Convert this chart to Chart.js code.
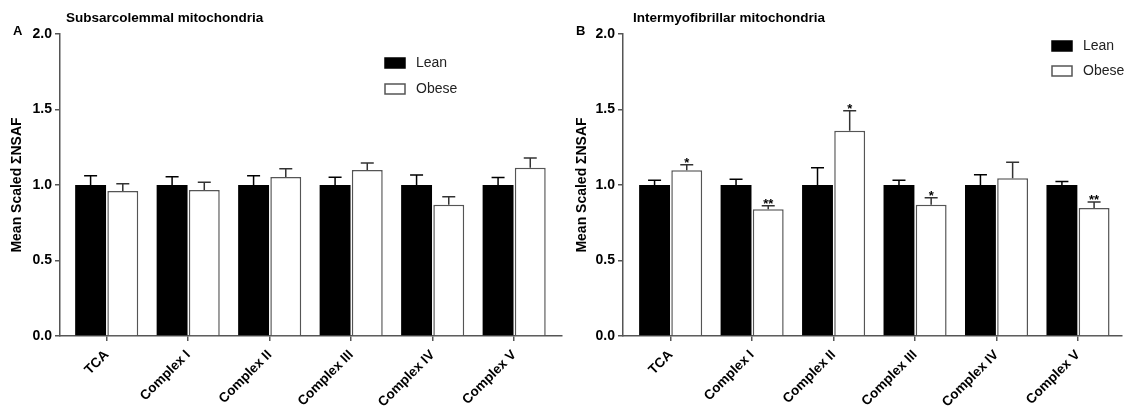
<!DOCTYPE html>
<html lang="en">
<head>
<meta charset="UTF-8">
<title>Mean Scaled ΣNSAF - mitochondria</title>
<script src="https://cdn.jsdelivr.net/npm/chart.js"></script>
<style>
  body { margin: 0; background: #fff; }
  .row { display: flex; width: 1130px; height: 415px; }
  .panel { width: 565px; height: 415px; }
</style>
</head>
<body>
<div class="row">
  <div class="panel"><canvas id="chartA" width="565" height="415"></canvas></div>
  <div class="panel"><canvas id="chartB" width="565" height="415"></canvas></div>
</div>
<script>
const categories = ['TCA', 'Complex I', 'Complex II', 'Complex III', 'Complex IV', 'Complex V'];
const yTicks = [0, 0.5, 1.0, 1.5, 2.0];

// A: subsarcolemmal (err = mean + SEM)
const ssLean = [1, 1, 1, 1, 1, 1];
const ssLeanErr = [1.062, 1.055, 1.062, 1.051, 1.066, 1.049];
const ssObese = [0.960, 0.967, 1.053, 1.099, 0.869, 1.115];
const ssObeseErr = [1.009, 1.018, 1.108, 1.146, 0.922, 1.179];
const ssSig = ['', '', '', '', '', ''];

// B: intermyofibrillar
const imfLean = [1, 1, 1, 1, 1, 1];
const imfLeanErr = [1.031, 1.038, 1.115, 1.031, 1.068, 1.024];
const imfObese = [1.097, 0.839, 1.360, 0.869, 1.044, 0.848];
const imfObeseErr = [1.134, 0.863, 1.492, 0.916, 1.150, 0.887];
const imfSig = ['*', '**', '*', '*', '', '**'];

const FONT = '"Liberation Sans", Arial, sans-serif';
Chart.defaults.font.family = FONT;

// SEM whiskers + significance stars
const errorBars = {
  id: 'errorBars',
  afterDatasetsDraw(chart) {
    const ctx = chart.ctx;
    const y = chart.scales.y;
    chart.data.datasets.forEach((ds, i) => {
      chart.getDatasetMeta(i).data.forEach((bar, j) => {
        const top = y.getPixelForValue(ds.errTop[j]);
        ctx.save();
        ctx.strokeStyle = ds.errColor;
        ctx.lineWidth = 1.5;
        ctx.beginPath();
        ctx.moveTo(bar.x, bar.y);
        ctx.lineTo(bar.x, top);
        ctx.moveTo(bar.x - 6.5, top);
        ctx.lineTo(bar.x + 6.5, top);
        ctx.stroke();
        if (ds.sig && ds.sig[j]) {
          ctx.fillStyle = '#000';
          ctx.font = 'bold 13px ' + FONT;
          ctx.textAlign = 'center';
          ctx.textBaseline = 'alphabetic';
          ctx.fillText(ds.sig[j], bar.x, top + 2);
        }
        ctx.restore();
      });
    });
  }
};

// panel title, letter and legend
const panelText = {
  id: 'panelText',
  afterDraw(chart, args, opts) {
    const ctx = chart.ctx;
    ctx.save();
    ctx.fillStyle = '#000';
    ctx.textBaseline = 'alphabetic';
    ctx.font = 'bold 13.5px ' + FONT;
    ctx.fillText(opts.title, opts.titleX, 22);
    ctx.font = 'bold 13px ' + FONT;
    ctx.fillText(opts.letter, opts.letterX, 35);

    ctx.font = '14px ' + FONT;
    ctx.textBaseline = 'middle';
    chart.data.datasets.forEach((ds, i) => {
      const cy = opts.legendY + i * opts.legendGap;
      ctx.fillStyle = ds.backgroundColor;
      ctx.fillRect(opts.legendX, cy - 5, 20, 10);
      ctx.strokeStyle = ds.borderColor;
      ctx.lineWidth = 1.5;
      ctx.strokeRect(opts.legendX, cy - 5, 20, 10);
      ctx.fillStyle = '#222';
      ctx.fillText(ds.label, opts.legendX + 31, cy);
    });
    ctx.restore();
  }
};

function makeChart(id, lean, leanErr, obese, obeseErr, sig, cfg) {
  const toXY = arr => arr.map((v, i) => ({ x: i, y: v }));
  return new Chart(document.getElementById(id), {
    type: 'bar',
    data: {
      datasets: [
        {
          label: 'Lean',
          data: toXY(lean),
          errTop: leanErr,
          errColor: '#000',
          backgroundColor: '#000',
          borderColor: '#000',
          borderWidth: 0,
          categoryPercentage: 0.79,
          barPercentage: 0.96
        },
        {
          label: 'Obese',
          data: toXY(obese),
          errTop: obeseErr,
          errColor: '#333',
          sig: sig,
          backgroundColor: '#fff',
          borderColor: '#555',
          borderWidth: 1.5,
          categoryPercentage: 0.79,
          barPercentage: 0.96
        }
      ]
    },
    options: {
      responsive: false,
      animation: false,
      layout: { padding: { top: 34, right: cfg.padRight, left: 0, bottom: 0 } },
      plugins: {
        legend: { display: false },
        tooltip: { enabled: false },
        panelText: cfg.text
      },
      scales: {
        x: {
          type: 'linear',
          min: cfg.xMin,
          max: cfg.xMax,
          offset: false,
          afterBuildTicks: s => { s.ticks = categories.map((c, i) => ({ value: i })); },
          ticks: {
            autoSkip: false,
            minRotation: 45,
            maxRotation: 45,
            padding: 6,
            color: '#000',
            font: { size: 13.5, weight: 'bold' },
            callback: v => categories[v]
          },
          grid: { drawOnChartArea: false, offset: false, tickLength: 5, color: '#555', lineWidth: 1.5 },
          border: { color: '#555', width: 1.5 },
          afterFit: s => { s.height = 79; }
        },
        y: {
          min: 0,
          max: 2,
          afterBuildTicks: s => { s.ticks = yTicks.map(v => ({ value: v })); },
          ticks: {
            color: '#000',
            padding: 3,
            font: { size: 14, weight: 'bold' },
            callback: v => v.toFixed(1)
          },
          grid: { drawOnChartArea: false, tickLength: 5, color: '#555', lineWidth: 1.5 },
          border: { color: '#555', width: 1.5 },
          title: {
            display: true,
            text: 'Mean Scaled ΣNSAF',
            color: '#000',
            font: { size: 14, weight: 'bold' },
            padding: { top: 9, bottom: 0 }
          },
          afterFit: s => { s.width = cfg.yWidth; }
        }
      }
    },
    plugins: [errorBars, panelText]
  });
}

makeChart('chartA', ssLean, ssLeanErr, ssObese, ssObeseErr, ssSig, {
  padRight: 3, yWidth: 60, xMin: -0.573, xMax: 5.587,
  text: { title: 'Subsarcolemmal mitochondria', titleX: 66, letter: 'A', letterX: 13,
          legendX: 385, legendY: 63, legendGap: 26 }
});

makeChart('chartB', imfLean, imfLeanErr, imfObese, imfObeseErr, imfSig, {
  padRight: 8, yWidth: 58, xMin: -0.585, xMax: 5.54,
  text: { title: 'Intermyofibrillar mitochondria', titleX: 68, letter: 'B', letterX: 11,
          legendX: 487, legendY: 46, legendGap: 25 }
});
</script>
</body>
</html>
